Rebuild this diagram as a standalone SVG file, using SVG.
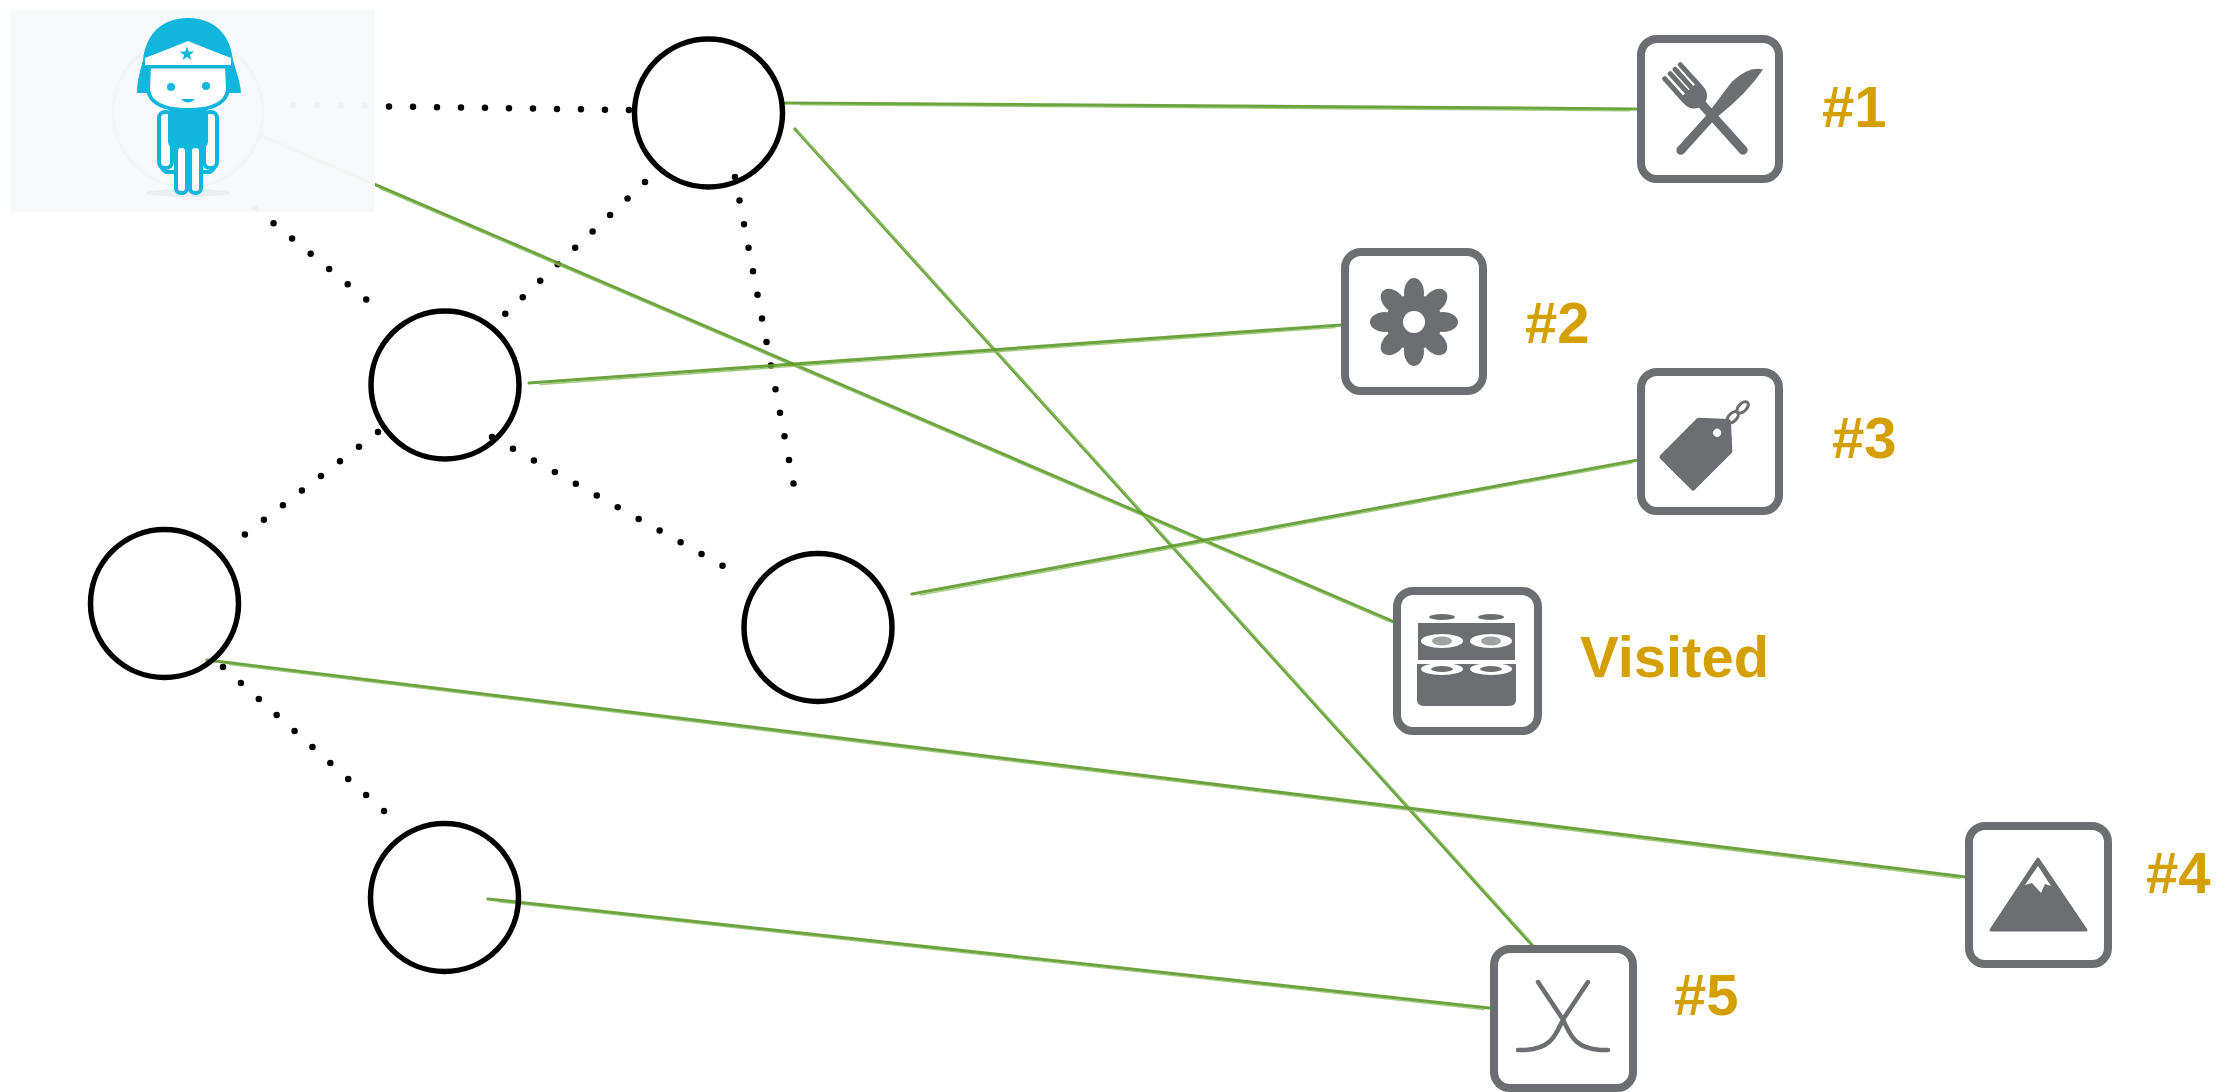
<svg xmlns="http://www.w3.org/2000/svg" width="2234" height="1092" viewBox="0 0 2234 1092">
  <style>
    .dots { fill: none; stroke: #000; stroke-width: 6.5; stroke-linecap: round; stroke-dasharray: 0 24; }
    .g { fill: none; stroke: #5f9b2f; stroke-width: 3.2; stroke-linecap: round; stroke-opacity: 0.92; }
    .g2 { fill: none; stroke: #8fc266; stroke-width: 1.4; stroke-linecap: round; stroke-opacity: 0.85; }
    .node { fill: none; stroke: #000; stroke-width: 5.5; }
    .box { fill: #fff; stroke: #6d6e71; stroke-width: 8; }
    .ico { fill: #6d6e71; }
    .ln { fill: none; stroke: #6d6e71; stroke-linecap: round; }
    .lbl { font-family: "Liberation Sans", Arial, sans-serif; font-weight: bold; font-size: 58px; fill: #d4a000; }
    .cy { fill: #10b6dc; }
    .cyl { fill: #fff; stroke: #10b6dc; stroke-width: 4; }
  </style>

  <rect width="2234" height="1092" fill="#fff"/>

  <!-- dotted links between the user and the graph nodes -->
  <g id="links">
    <line class="dots" x1="293" y1="105" x2="630" y2="110"/>
    <line class="dots" x1="255" y1="208" x2="384" y2="314"/>
    <line class="dots" x1="645" y1="182" x2="488" y2="330"/>
    <line class="dots" x1="735" y1="177" x2="798" y2="507"/>
    <line class="dots" x1="492" y1="437" x2="723" y2="566"/>
    <line class="dots" x1="378" y1="432" x2="226" y2="549"/>
    <line class="dots" x1="223" y1="667" x2="384" y2="811"/>
  </g>

  <!-- green hand-drawn connectors from nodes to places -->
  <g id="connectors">
    <g id="c1"><line class="g" x1="785" y1="103" x2="1636" y2="109"/><line class="g2" x1="800" y1="104.8" x2="1630" y2="110.8"/></g>
    <g id="c2"><line class="g" x1="795" y1="129" x2="1533" y2="946"/><line class="g2" x1="798" y1="131.5" x2="1531" y2="942"/></g>
    <g id="c3"><line class="g" x1="262" y1="136" x2="1394" y2="622"/><line class="g2" x1="380" y1="188.5" x2="1388" y2="621"/></g>
    <g id="c4"><line class="g" x1="529" y1="383" x2="1341" y2="325"/><line class="g2" x1="540" y1="384.5" x2="1335" y2="327.5"/></g>
    <g id="c5"><line class="g" x1="912" y1="594" x2="1638" y2="460"/><line class="g2" x1="920" y1="595" x2="1632" y2="463"/></g>
    <g id="c6"><line class="g" x1="207" y1="660" x2="1966" y2="877"/><line class="g2" x1="230" y1="664.5" x2="1960" y2="878.5"/></g>
    <g id="c7"><line class="g" x1="488" y1="899" x2="1489" y2="1008"/><line class="g2" x1="500" y1="902" x2="1484" y2="1009.5"/></g>
  </g>

  <!-- user avatar -->
  <g id="user">
    <rect x="10" y="10" width="365" height="202" fill="#f8f9fa" fill-opacity="0.97"/>
    <circle cx="188" cy="112" r="75" fill="none" stroke="#f4f5f6" stroke-width="3"/>
    <ellipse cx="188" cy="193" rx="42" ry="4" fill="#eceef0"/>
    <!-- cape and arms -->
    <path class="cyl" d="M160,150 Q158,168 166,172 L210,172 Q218,168 216,150 Z"/>
    <rect class="cyl" x="159" y="112" width="13" height="56" rx="6"/>
    <rect class="cyl" x="204" y="112" width="13" height="56" rx="6"/>
    <rect class="cy" x="168" y="108" width="40" height="40" rx="6"/>
    <!-- legs -->
    <rect class="cyl" x="176" y="146" width="11" height="47" rx="5"/>
    <rect class="cyl" x="190" y="146" width="11" height="47" rx="5"/>
    <!-- head -->
    <path class="cy" d="M137,93 C137,80 141,68 143,60 C146,32 164,18 188,18 C212,18 230,32 233,60 C235,68 240,80 241,93 Z"/>
    <path d="M149,66 L227,66 L228,90 C226,104 210,110 188,110 C166,110 150,104 148,90 Z" fill="#fff" stroke="#10b6dc" stroke-width="4"/>
    <path d="M145,58 Q166,50 188,41 Q210,50 231,58 L231,65 L145,65 Z" fill="#fff"/>
    <line x1="146" y1="67" x2="230" y2="67" stroke="#10b6dc" stroke-width="3"/>
    <polygon class="cy" points="187,46.5 188.8,51.6 194.1,51.7 189.9,54.9 191.4,60.1 187,57 182.6,60.1 184.1,54.9 179.9,51.7 185.2,51.6"/>
    <circle class="cy" cx="171" cy="87" r="4"/>
    <circle class="cy" cx="206" cy="86" r="4"/>
    <path class="cy" d="M181,99 Q188,106 195,99 Z"/>
  </g>

  <!-- graph nodes -->
  <g id="n1"><circle class="node" cx="708.5" cy="113" r="74"/></g>
  <g id="n2"><circle class="node" cx="445" cy="385" r="74"/></g>
  <g id="n3"><circle class="node" cx="164.5" cy="603.5" r="74"/></g>
  <g id="n4"><circle class="node" cx="818" cy="627.5" r="74"/></g>
  <g id="n5"><circle class="node" cx="444.5" cy="897.5" r="74"/></g>

  <!-- place #1: restaurant -->
  <g id="p1">
    <rect class="box" x="1641" y="39" width="138" height="140" rx="16"/>
    <g transform="translate(1707,110) rotate(-42)">
      <line class="ln" x1="0" y1="-10" x2="0" y2="54" stroke-width="9"/>
      <path class="ico" d="M-13,-27 L13,-27 L13,-20 Q13,-11 4.5,-7 L-4.5,-7 Q-13,-11 -13,-20 Z"/>
      <rect class="ico" x="-13" y="-54" width="5" height="30" rx="2"/>
      <rect class="ico" x="-5.5" y="-54" width="5" height="30" rx="2"/>
      <rect class="ico" x="1" y="-54" width="5" height="30" rx="2"/>
      <rect class="ico" x="8" y="-54" width="5" height="30" rx="2"/>
    </g>
    <g transform="translate(1719,108) rotate(42)">
      <line class="ln" x1="0" y1="0" x2="0" y2="57" stroke-width="9"/>
      <path class="ico" d="M-5,6 L-8,-28 Q-6,-52 7,-58 Q11,-30 5,6 Z"/>
    </g>
    <text class="lbl" x="1822" y="127">#1</text>
  </g>

  <!-- place #2: flower -->
  <g id="p2">
    <rect class="box" x="1345" y="252" width="138" height="139" rx="16"/>
    <g transform="translate(1414,322)">
      <circle class="ico" r="28"/>
      <ellipse class="ico" cx="0" cy="-29" rx="10" ry="15"/>
      <ellipse class="ico" cx="0" cy="-29" rx="10" ry="15" transform="rotate(45)"/>
      <ellipse class="ico" cx="0" cy="-29" rx="10" ry="15" transform="rotate(90)"/>
      <ellipse class="ico" cx="0" cy="-29" rx="10" ry="15" transform="rotate(135)"/>
      <ellipse class="ico" cx="0" cy="-29" rx="10" ry="15" transform="rotate(180)"/>
      <ellipse class="ico" cx="0" cy="-29" rx="10" ry="15" transform="rotate(225)"/>
      <ellipse class="ico" cx="0" cy="-29" rx="10" ry="15" transform="rotate(270)"/>
      <ellipse class="ico" cx="0" cy="-29" rx="10" ry="15" transform="rotate(315)"/>
      <circle r="11" fill="#fff"/>
    </g>
    <text class="lbl" x="1525" y="343">#2</text>
  </g>

  <!-- place #3: shopping tag -->
  <g id="p3">
    <rect class="box" x="1641" y="372" width="138" height="139" rx="16"/>
    <g transform="translate(1703,447) rotate(45)">
      <path class="ico" d="M-22,36 L22,36 L22,-16 L0,-36 L-22,-16 Z" stroke="#6d6e71" stroke-width="5" stroke-linejoin="round"/>
      <circle cx="0" cy="-20" r="4" fill="#fff"/>
      <ellipse cx="0" cy="-42" rx="4" ry="7" fill="none" stroke="#6d6e71" stroke-width="3"/>
      <ellipse cx="0" cy="-56" rx="4" ry="7" fill="none" stroke="#6d6e71" stroke-width="3"/>
    </g>
    <text class="lbl" x="1832" y="458">#3</text>
  </g>

  <!-- visited place: sushi -->
  <g id="visited">
    <rect class="box" x="1397" y="591" width="141" height="140" rx="16"/>
    <g>
      <ellipse class="ico" cx="1442" cy="617" rx="13" ry="3"/>
      <ellipse class="ico" cx="1491" cy="617" rx="13" ry="3"/>
      <rect class="ico" x="1418" y="623" width="97" height="37"/>
      <ellipse cx="1442" cy="641" rx="21" ry="7" fill="#fff"/>
      <ellipse cx="1491" cy="641" rx="21" ry="7" fill="#fff"/>
      <ellipse cx="1442" cy="641" rx="10" ry="4.5" fill="#a0a1a3"/>
      <ellipse cx="1491" cy="641" rx="10" ry="4.5" fill="#a0a1a3"/>
      <path class="ico" d="M1417,664 L1516,664 L1516,700 Q1516,706 1508,706 L1425,706 Q1417,706 1417,700 Z"/>
      <ellipse cx="1442" cy="669" rx="21" ry="6" fill="#fff"/>
      <ellipse cx="1491" cy="669" rx="21" ry="6" fill="#fff"/>
      <ellipse class="ico" cx="1442" cy="669" rx="11" ry="3"/>
      <ellipse class="ico" cx="1491" cy="669" rx="11" ry="3"/>
    </g>
    <text class="lbl" x="1580" y="677">Visited</text>
  </g>

  <!-- place #4: mountain -->
  <g id="p4">
    <rect class="box" x="1969" y="826" width="139" height="138" rx="16"/>
    <path class="ico" d="M2038,859 L2086,930 L1991,930 Z" stroke="#6d6e71" stroke-width="3" stroke-linejoin="round"/>
    <path d="M2038,866 L2025,885 L2032,883 L2041,893 L2045,884 L2051,886 Z" fill="#fff"/>
    <text class="lbl" x="2146" y="893">#4</text>
  </g>

  <!-- place #5: hockey -->
  <g id="p5">
    <rect class="box" x="1494" y="949" width="139" height="139" rx="16"/>
    <path class="ln" stroke-width="4.5" d="M1538,982 L1562,1018 C1570,1032 1572,1048 1600,1050 L1608,1050"/>
    <path class="ln" stroke-width="4.5" d="M1588,982 L1564,1018 C1556,1032 1554,1048 1526,1050 L1518,1050"/>
    <text class="lbl" x="1674" y="1015">#5</text>
  </g>
</svg>
